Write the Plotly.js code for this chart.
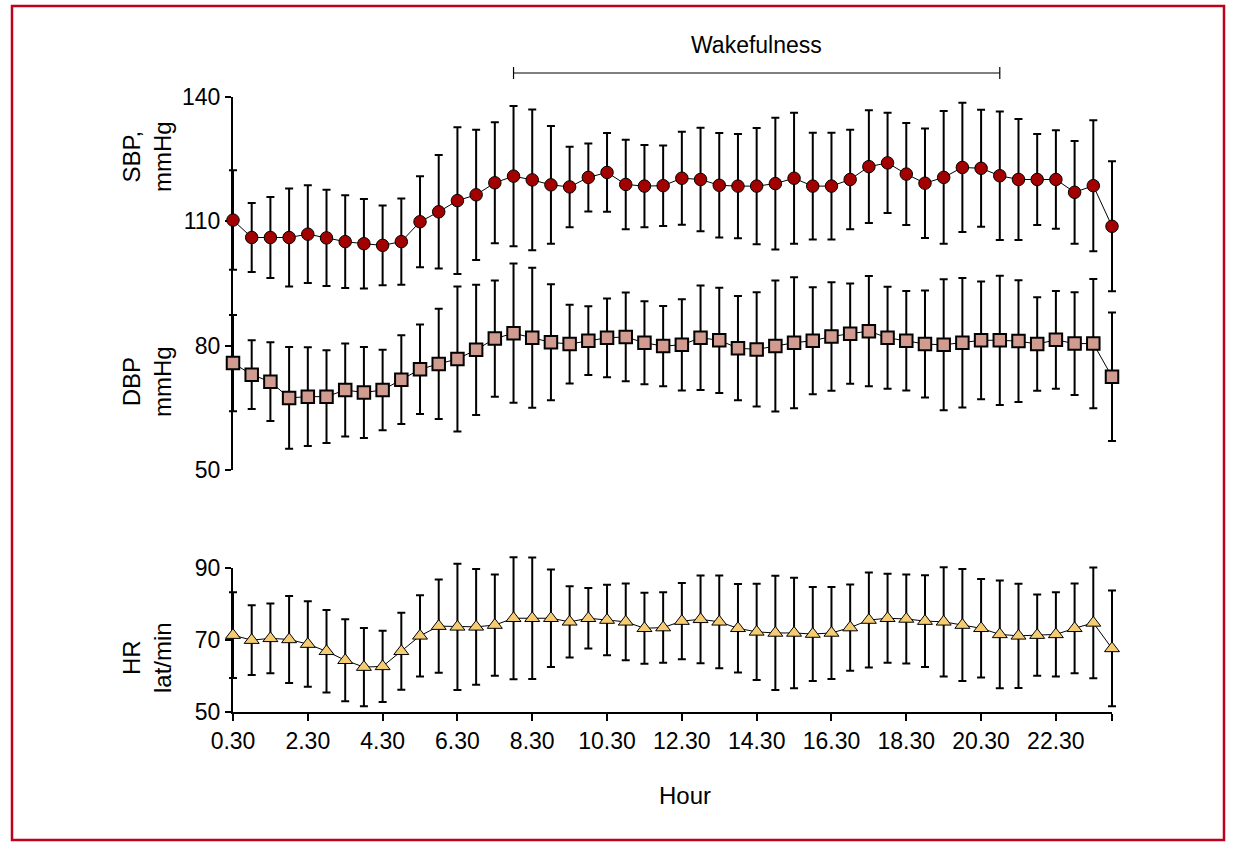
<!DOCTYPE html>
<html>
<head>
<meta charset="utf-8">
<script src="https://cdn.plot.ly/plotly-3.0.1.min.js"></script>
<style>
  body { margin: 0; background: #fff; }
  #grafico { width: 1237px; height: 850px; }
</style>
</head>
<body>
<div id="grafico"></div>
<script>
// half-hour readings, 0.30 -> 24.00
const horas = ["0.30", "1.00", "1.30", "2.00", "2.30", "3.00", "3.30", "4.00", "4.30", "5.00",
  "5.30", "6.00", "6.30", "7.00", "7.30", "8.00", "8.30", "9.00", "9.30", "10.00",
  "10.30", "11.00", "11.30", "12.00", "12.30", "13.00", "13.30", "14.00", "14.30", "15.00",
  "15.30", "16.00", "16.30", "17.00", "17.30", "18.00", "18.30", "19.00", "19.30", "20.00",
  "20.30", "21.00", "21.30", "22.00", "22.30", "23.00", "23.30", "24.00"];

// posicion (indice de media hora) y texto de las marcas del eje x
const posMarcas = [0, 4, 8, 12, 16, 20, 24, 28, 32, 36, 40, 44, 47];
const textoMarcas = ["0.30", "2.30", "4.30", "6.30", "8.30", "10.30", "12.30", "14.30",
  "16.30", "18.30", "20.30", "22.30", ""];

// presion sistolica (media y DE)
const sbpMedia = [110.3, 106.1, 106.1, 106.1, 106.9, 106.0, 105.1, 104.6, 104.2, 105.1,
  109.9, 112.3, 115.0, 116.4, 119.3, 120.9, 120.0, 118.8, 118.3, 120.6,
  121.8, 118.9, 118.5, 118.6, 120.4, 120.1, 118.7, 118.5, 118.5, 119.1,
  120.4, 118.5, 118.5, 120.1, 123.2, 124.1, 121.4, 119.2, 120.6, 123.0,
  122.8, 121.0, 120.1, 120.1, 120.1, 117.0, 118.6, 108.8];
const sbpDE = [12.0, 8.3, 9.8, 11.8, 11.8, 11.6, 11.2, 10.8, 9.6, 10.4,
  11.0, 13.7, 17.7, 15.7, 14.6, 16.9, 17.0, 14.2, 9.7, 8.2,
  9.5, 10.8, 9.9, 9.7, 11.2, 12.5, 12.6, 12.6, 14.0, 15.9,
  15.8, 12.9, 12.9, 12.0, 13.6, 12.1, 12.3, 13.2, 16.0, 15.6,
  14.1, 15.5, 14.6, 11.0, 11.9, 12.4, 15.8, 15.7];

// presion diastolica
const dbpMedia = [75.8, 73.0, 71.3, 67.4, 67.7, 67.7, 69.3, 68.7, 69.3, 71.8,
  74.3, 75.6, 76.8, 79.0, 81.7, 83.0, 81.9, 80.8, 80.4, 81.2,
  81.9, 82.1, 80.7, 79.9, 80.2, 81.9, 81.3, 79.4, 79.1, 79.9,
  80.7, 81.2, 82.2, 82.9, 83.5, 81.9, 81.2, 80.4, 80.2, 80.7,
  81.3, 81.3, 81.1, 80.4, 81.4, 80.5, 80.5, 72.5];
const dbpDE = [11.6, 8.3, 9.5, 12.3, 11.9, 11.2, 11.2, 11.0, 9.7, 10.7,
  10.8, 13.3, 17.5, 15.7, 14.0, 16.8, 16.9, 14.0, 9.5, 8.3,
  9.5, 10.7, 10.0, 9.7, 11.0, 12.6, 12.7, 12.6, 13.8, 15.8,
  15.8, 12.9, 13.1, 12.1, 13.3, 12.3, 12.0, 12.9, 15.8, 15.6,
  14.2, 15.6, 14.7, 11.3, 11.8, 12.4, 15.6, 15.5];

// frecuencia cardiaca
const hrMedia = [71.4, 70.0, 70.5, 70.2, 68.9, 66.9, 64.4, 62.5, 62.7, 66.9,
  71.2, 73.9, 73.7, 73.7, 74.2, 76.1, 76.1, 76.1, 75.1, 76.1,
  75.6, 75.1, 73.3, 73.5, 75.3, 75.8, 75.1, 73.3, 72.3, 72.0,
  72.0, 71.7, 72.0, 73.5, 75.6, 76.1, 75.9, 75.3, 75.1, 74.2,
  73.3, 71.6, 71.2, 71.4, 71.6, 73.3, 74.8, 67.7];
const hrDE = [11.9, 9.7, 9.7, 12.1, 11.9, 11.5, 11.4, 10.9, 9.9, 10.7,
  11.3, 13.0, 17.6, 16.1, 14.1, 17.0, 16.9, 13.6, 9.9, 8.4,
  9.8, 10.7, 9.9, 9.8, 10.6, 12.2, 12.9, 12.3, 13.4, 15.9,
  15.4, 13.1, 12.8, 12.0, 13.2, 12.4, 12.4, 12.8, 15.2, 15.6,
  13.7, 15.0, 14.5, 11.3, 11.7, 12.5, 15.4, 16.1];

const fuente = "Liberation Sans Narrow, Arial Narrow, Liberation Sans, Arial, sans-serif";

// los datos van en ejes ocultos algo mas grandes para que las barras de error no se recorten
function serie(media, de, eje, simbolo, tam, relleno, borde) {
  return {
    x: horas,
    y: media,
    xaxis: "x2",
    yaxis: eje,
    type: "scatter",
    mode: "lines+markers",
    cliponaxis: false,
    line: { color: "#000", width: 1 },
    marker: { symbol: simbolo, size: tam, color: relleno, line: { color: "#000", width: borde } },
    error_y: { type: "data", array: de, visible: true, color: "#000", thickness: 2, width: 4 },
    showlegend: false
  };
}

// trazas vacias para que se dibujen los ejes visibles
const vacia = (eje) => ({ x: [], y: [], xaxis: "x", yaxis: eje, type: "scatter", mode: "markers",
  showlegend: false, hoverinfo: "skip" });

const trazas = [
  vacia("y"),
  vacia("y2"),
  serie(sbpMedia, sbpDE, "y3", "circle", 12.5, "#a30000", 1),
  serie(dbpMedia, dbpDE, "y3", "square", 12.5, "#d19c8f", 2),
  serie(hrMedia, hrDE, "y4", "triangle-up", 13, "#f6cc72", 1)
];

const ejeY = {
  showline: true, linewidth: 2, linecolor: "#000",
  ticks: "outside", ticklen: 6, tickwidth: 2, tickcolor: "#000",
  showgrid: false, zeroline: false,
  tickfont: { family: fuente, size: 23, color: "#000" },
  anchor: "x"
};

const oculto = { visible: false, showgrid: false, zeroline: false, fixedrange: true };

// area de trazado 213..1132 px; ejes visibles 233..1112 px
const layout = {
  width: 1237,
  height: 850,
  margin: { l: 213, r: 105, t: 67, b: 138 },
  paper_bgcolor: "#fff",
  plot_bgcolor: "rgba(0,0,0,0)",
  font: { family: fuente, color: "#000" },
  xaxis: {
    type: "linear",
    domain: [20 / 919, 899 / 919],
    range: [0, 47],
    anchor: "y2",
    showline: true, linewidth: 2, linecolor: "#000",
    ticks: "outside", ticklen: 7, tickwidth: 2, tickcolor: "#000",
    tickmode: "array",
    tickvals: posMarcas,
    ticktext: textoMarcas,
    showgrid: false, zeroline: false,
    tickfont: { family: fuente, size: 23, color: "#000" }
  },
  xaxis2: Object.assign({}, oculto, {
    type: "category", domain: [0, 1], range: [-20 / (879 / 47), 47 + 20 / (879 / 47)], anchor: "y3"
  }),
  yaxis: Object.assign({}, ejeY, {
    domain: [242 / 645, 615 / 645], range: [50, 140], tickvals: [50, 80, 110, 140]
  }),
  yaxis2: Object.assign({}, ejeY, {
    domain: [0, 143.7 / 645], range: [50, 90], tickvals: [50, 70, 90]
  }),
  yaxis3: Object.assign({}, oculto, {
    domain: [242 / 645, 615 / 645], range: [50, 140], anchor: "x2"
  }),
  yaxis4: Object.assign({}, oculto, {
    domain: [0, 143.7 * 1.25 / 645], range: [50, 100], anchor: "x2"
  }),
  shapes: [
    // marco rojo
    { type: "rect", xref: "paper", yref: "paper",
      x0: (12 - 213) / 919, x1: (1224 - 213) / 919, y0: (712 - 840) / 645, y1: (712 - 6) / 645,
      line: { color: "#c0001b", width: 2.5 } },
    // periodo de vigilia
    { type: "line", xref: "x", yref: "paper", x0: 15, x1: 41, y0: 639 / 645, y1: 639 / 645,
      line: { color: "#000", width: 1.2 } },
    { type: "line", xref: "x", yref: "paper", x0: 15, x1: 15, y0: 633 / 645, y1: 645 / 645,
      line: { color: "#000", width: 1.2 } },
    { type: "line", xref: "x", yref: "paper", x0: 41, x1: 41, y0: 633 / 645, y1: 645 / 645,
      line: { color: "#000", width: 1.2 } }
  ],
  annotations: [
    { text: "Wakefulness", xref: "x", yref: "paper", x: 28, y: (712 - 45) / 645, showarrow: false,
      xanchor: "center", yanchor: "middle", font: { size: 23 } },
    { text: "SBP,<br>mmHg", xref: "paper", yref: "paper", x: (147 - 213) / 919, y: (712 - 157) / 645,
      showarrow: false, textangle: -90, xanchor: "center", yanchor: "middle", font: { size: 24 } },
    { text: "DBP<br>mmHg", xref: "paper", yref: "paper", x: (147 - 213) / 919, y: (712 - 382) / 645,
      showarrow: false, textangle: -90, xanchor: "center", yanchor: "middle", font: { size: 24 } },
    { text: "HR<br>lat/min", xref: "paper", yref: "paper", x: (147 - 213) / 919, y: (712 - 658) / 645,
      showarrow: false, textangle: -90, xanchor: "center", yanchor: "middle", font: { size: 24 } },
    { text: "Hour", xref: "paper", yref: "paper", x: (685 - 213) / 919, y: (712 - 795) / 645,
      showarrow: false, xanchor: "center", yanchor: "middle", font: { size: 24 } }
  ]
};

Plotly.newPlot("grafico", trazas, layout, { staticPlot: true });
</script>
</body>
</html>
